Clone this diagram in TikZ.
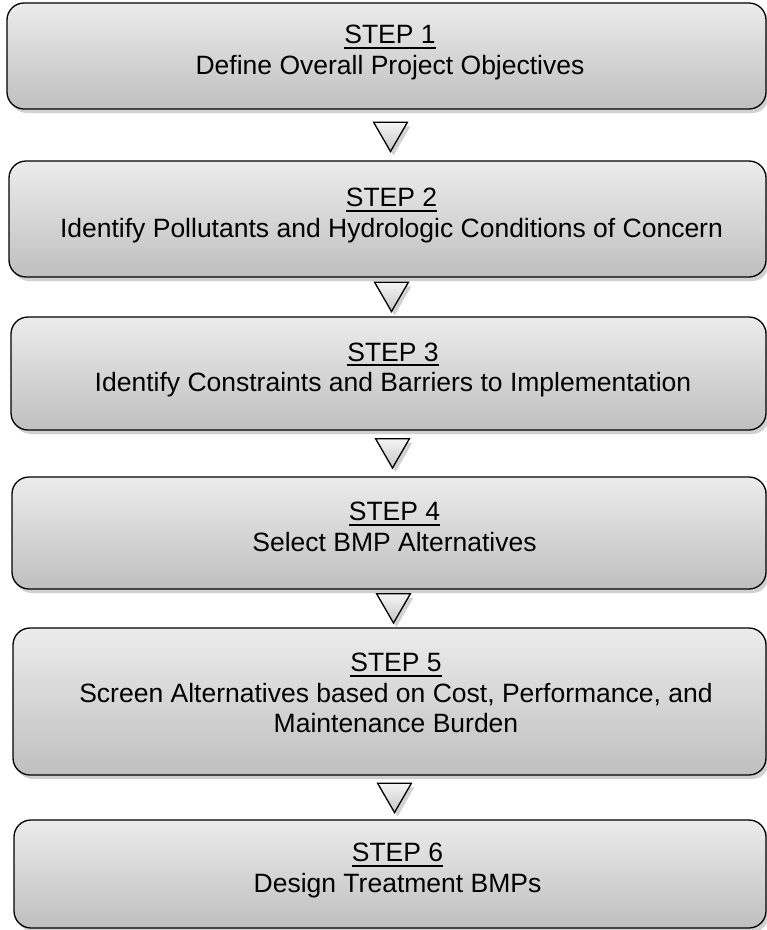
\documentclass[tikz,border=0pt]{standalone}
\usepackage{fontspec}
\setmainfont{Liberation Sans}
\usetikzlibrary{shapes.geometric,shadows}
\newcommand\stepul[1]{\setbox0\hbox{#1}\rlap{\rule[-4.8pt]{\wd0}{1.9pt}}\box0}
\begin{document}
\begin{tikzpicture}[x=1pt,y=-1pt,
  shadowed/.style={drop shadow={shadow xshift=3pt,shadow yshift=-4pt,fill=black!18,opacity=1}},
  stepbox/.style={shadowed,draw=black,line width=1.3pt,rounded corners=17pt,
    top color=gray!15,bottom color=gray!50,inner sep=0pt},
  steptext/.style={anchor=north,align=center,inner sep=0pt,
    font=\fontsize{26.5}{30.5}\selectfont},
  tri/.style={shadowed,regular polygon,regular polygon sides=3,shape border rotate=180,
    draw=black,line width=1.3pt,minimum size=39pt,inner sep=0pt,
    top color=gray!8,bottom color=gray!45}]
\useasboundingbox (0,0) rectangle (767,930);
% boxes
\node[stepbox,minimum width=759pt,minimum height=106pt] (s1) at (386.5,56) {};
\node[stepbox,minimum width=757pt,minimum height=116pt] (s2) at (387.5,219) {};
\node[stepbox,minimum width=755pt,minimum height=113pt] (s3) at (388.5,373.5) {};
\node[stepbox,minimum width=754pt,minimum height=112pt] (s4) at (389,533) {};
\node[stepbox,minimum width=753pt,minimum height=147pt] (s5) at (389.5,701.5) {};
\node[stepbox,minimum width=752pt,minimum height=108pt] (s6) at (390,874) {};
% texts
\node[steptext] (s1t) at (390,25) {\stepul{STEP 1}\\Define Overall Project Objectives};
\node[steptext] (s2t) at (391.5,188) {\stepul{STEP 2}\\Identify Pollutants and Hydrologic Conditions of Concern};
\node[steptext] (s3t) at (393,342.5) {\stepul{STEP 3}\\Identify Constraints and Barriers to Implementation};
\node[steptext] (s4t) at (394.5,502) {\stepul{STEP 4}\\Select BMP Alternatives};
\node[steptext] (s5t) at (396,653) {\stepul{STEP 5}\\Screen Alternatives based on Cost, Performance, and\\Maintenance Burden};
\node[steptext] (s6t) at (397.5,843) {\stepul{STEP 6}\\Design Treatment BMPs};
% triangles
\node[tri] (t1) at (390.5,132) {};
\node[tri] (t2) at (391.5,292) {};
\node[tri] (t3) at (392.5,448.5) {};
\node[tri] (t4) at (393.5,603.5) {};
\node[tri] (t5) at (394.5,793) {};
\end{tikzpicture}
\end{document}
